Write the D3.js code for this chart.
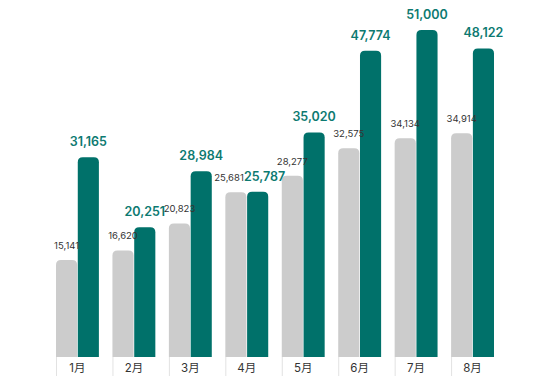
<!DOCTYPE html>
<html>
<head>
<meta charset="utf-8">
<script src="https://cdn.jsdelivr.net/npm/d3@7"></script>
<style>
  body { margin: 0; background: #fff; }
  text { font-family: Inter, "Noto Sans CJK SC", sans-serif; }
</style>
</head>
<body>
<div id="chart"></div>
<script>
// data
const months = ['1月', '2月', '3月', '4月', '5月', '6月', '7月', '8月'];
const prevYear = [15141, 16620, 20823, 25681, 28277, 32575, 34134, 34914];
const thisYear = [31165, 20251, 28984, 25787, 35020, 47774, 51000, 48122];

const width = 550, height = 378;
const baseY = 357, topY = 30;
const grey = '#cccccc', teal = '#00716a';

const svg = d3.select('#chart').append('svg')
  .attr('width', width)
  .attr('height', height);

const data = months.map((m, i) => ({month: m, prev: prevYear[i], cur: thisYear[i]}));

let x = d3.scaleBand()
  .domain(months)
  .range([56, 494])
  .paddingInner(0.24)
  .paddingOuter(0);

let x1 = d3.scaleBand()
  .domain(['prev', 'cur'])
  .range([0, x.bandwidth()])
  .paddingInner(0.03);

let y = d3.scaleLinear()
  .domain([0, d3.max(thisYear)])
  .range([baseY, topY]);

// bar with rounded top corners
function topRounded(x0, y0, w, h, r) {
  r = Math.min(r, w / 2, h);
  return 'M' + x0 + ',' + (y0 + h) +
    'V' + (y0 + r) +
    'Q' + x0 + ',' + y0 + ' ' + (x0 + r) + ',' + y0 +
    'H' + (x0 + w - r) +
    'Q' + (x0 + w) + ',' + y0 + ' ' + (x0 + w) + ',' + (y0 + r) +
    'V' + (y0 + h) + 'Z';
}

const groups = svg.append('g').selectAll('g')
  .data(data)
  .enter().append('g')
    .attr('transform', d => 'translate(' + x(d.month) + ',0)');

groups.append('path')
  .attr('fill', grey)
  .attr('d', d => topRounded(x1('prev'), y(d.prev), x1.bandwidth(), baseY - y(d.prev), 5));

groups.append('path')
  .attr('fill', teal)
  .attr('d', d => topRounded(x1('cur'), y(d.cur), x1.bandwidth(), baseY - y(d.cur), 5));

// category strip under the bars
groups.append('line')
  .attr('x1', 0.5).attr('x2', 0.5)
  .attr('y1', baseY).attr('y2', 376)
  .attr('stroke', '#e2e2e2')
  .attr('stroke-width', 1);

groups.append('text')
  .attr('x', x.bandwidth() / 2)
  .attr('y', 372)
  .attr('text-anchor', 'middle')
  .attr('font-size', 11.5)
  .attr('fill', '#333')
  .text(d => d.month);

// value labels, on top of all bars
const labels = svg.append('g').selectAll('g')
  .data(data)
  .enter().append('g')
    .attr('transform', d => 'translate(' + x(d.month) + ',0)');

const prevLabels = labels.append('text')
  .attr('x', x1('prev') + x1.bandwidth() / 2)
  .attr('y', d => y(d.prev) - 11)
  .attr('text-anchor', 'middle')
  .attr('font-size', 9.5)
  .attr('fill', '#333')
  .text(d => d3.format(',')(d.prev));

const curLabels = labels.append('text')
  .attr('x', x1('cur') + x1.bandwidth() / 2)
  .attr('y', d => y(d.cur) - 11)
  .attr('text-anchor', 'middle')
  .attr('font-size', 12.5)
  .attr('font-weight', 600)
  .attr('fill', '#0d7a71')
  .text(d => d3.format(',')(d.cur));

// push apart labels that collide inside a group
prevLabels.each(function(d, i) {
  const a = this.getBBox();
  const bNode = curLabels.nodes()[i];
  const b = bNode.getBBox();
  const overlapY = !(a.y > b.y + b.height || b.y > a.y + a.height);
  const overlap = a.x + a.width - b.x;
  if (overlapY && overlap > 0) {
    const s = overlap / 2;
    d3.select(this).attr('dx', -s);
    d3.select(bNode).attr('dx', s);
  }
});
</script>
</body>
</html>
